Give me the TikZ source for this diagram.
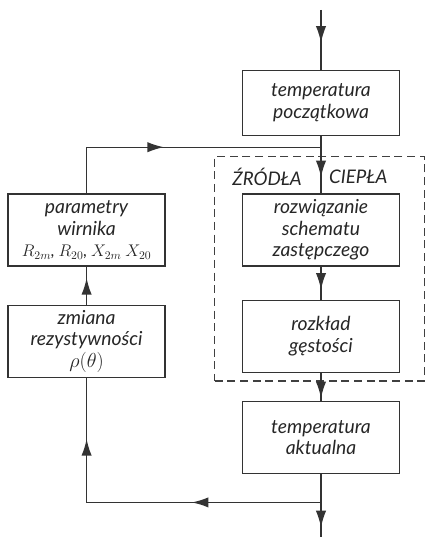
\documentclass[tikz,border=0pt]{standalone}
\usepackage{fontspec}
\setmainfont{Lato}
\usetikzlibrary{arrows.meta,positioning,calc,fit,decorations.markings}
\tikzset{
  midarr/.style={postaction={decorate,decoration={markings,
      mark=at position #1 with {\arrow{Latex[length=5mm,width=3.1mm]}}}}}
}
\begin{document}
\begin{tikzpicture}[
    box/.style={draw=black!80, line width=1.2pt, minimum width=4.71cm, minimum height=2.16cm, align=center, inner sep=2pt, font=\fontsize{16.5}{18.5}\selectfont\itshape, text=black!85},
    line/.style={line width=1.2pt, black!80},
    zone/.style={draw=black!75, line width=1.1pt, dash pattern=on 2.4mm off 1.4mm, inner sep=0pt},
    lab/.style={font=\fontsize{16}{18}\selectfont\itshape, text=black!85}
  ]
    \useasboundingbox (0,0) rectangle (12.87,-16.11);
    % main column
    \node[box, minimum height=1.95cm] (tpocz) at (9.63,-3.09) {temperatura\\początkowa};
    \node[box, below=1.71cm of tpocz] (schem) {rozwiązanie\\schematu\\zastępczego};
    \node[box, below=0.99cm of schem] (rozkl) {rozkład\\gęstości};
    \node[box, below=0.84cm of rozkl] (takt) {temperatura\\aktualna};
    % feedback column
    \node[box, left=2.28cm of schem] (param) {parametry\\wirnika\\{\fontsize{14}{18.5}\selectfont$R_{2m}$, $R_{20}$, $X_{2m}$ $X_{20}$}};
    \node[box, below=1.14cm of param] (rezyst) {zmiana\\rezystywności\\$\rho(\theta)$};
    % heat sources zone
    \coordinate (zsw) at ($(rozkl.south west)+(-0.81,-0.24)$);
    \coordinate (zne) at ($(schem.north east)+(0.72,1.11)$);
    \node[zone, fit=(zsw)(zne)] (zrodla) {};
    \node[lab] (zr) at ($(schem.north)+(-1.62,0.48)$) {ŹRÓDŁA};
    \node[lab] (cp) at ($(schem.north)+(1.12,0.48)$) {CIEPŁA};
    % connectors
    \coordinate (wej) at ($(tpocz.north)+(0,1.8)$);
    \coordinate (wyj) at ($(takt.south)+(0,-2.01)$);
    \coordinate (j1) at ($(tpocz.south)+(0,-0.33)$);
    \coordinate (j2) at ($(takt.south)+(0,-0.84)$);
    \draw[line, midarr=0.55] (wej) -- (tpocz.north);
    \draw[line, midarr=0.72] (tpocz.south) -- (schem.north);
    \draw[line, midarr=0.7] (schem.south) -- (rozkl.north);
    \draw[line, midarr=0.9] (rozkl.south) -- (takt.north);
    \draw[line, midarr=0.79] (takt.south) -- (wyj);
    \draw[line, midarr=0.36, midarr=0.83] (j2) -| (rezyst.south);
    \draw[line, midarr=0.7] (rezyst.north) -- (param.south);
    \draw[line, midarr=0.44] (param.north) |- (j1);
  \end{tikzpicture}
\end{document}
